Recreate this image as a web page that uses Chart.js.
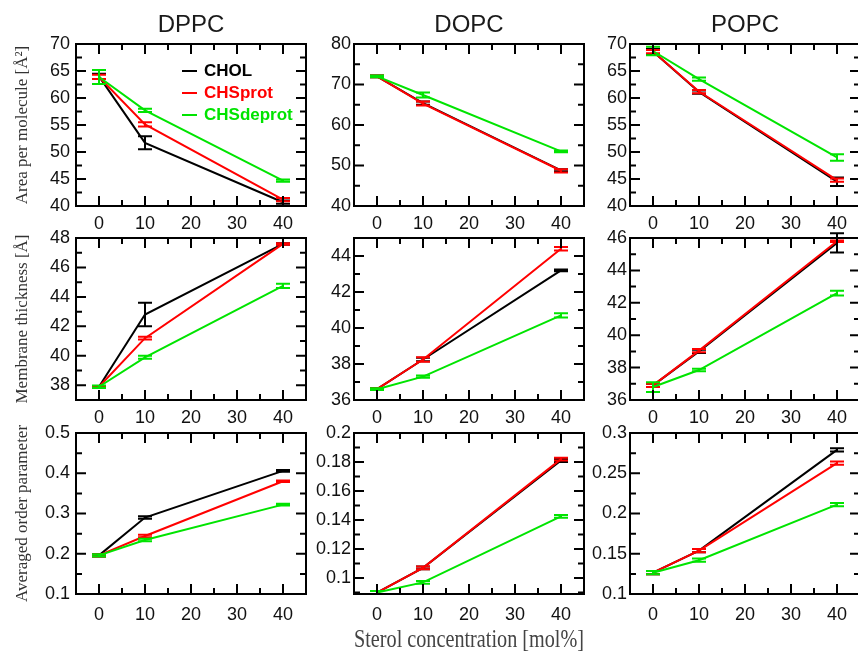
<!DOCTYPE html>
<html>
<head>
<meta charset="utf-8">
<title>Sterol concentration</title>
<script src="https://cdn.jsdelivr.net/npm/chart.js@4.4.1/dist/chart.umd.min.js"></script>
<style>
html, body { margin: 0; padding: 0; background: #fff; overflow: hidden; width: 858px; height: 654px; }
canvas { position: absolute; }
</style>
</head>
<body>
<script>
var konsentrasi = [0, 10, 40];
var xTicks = [0, 10, 20, 30, 40];
var xMinor = [5, 15, 25, 35];

var lipid = ['DPPC', 'DOPC', 'POPC'];
var sterol = ['CHOL', 'CHSprot', 'CHSdeprot'];
var judulY = ['Area per molecule [Å²]', 'Membrane thickness [Å]', 'Averaged order parameter'];

// area per molecule
var area_dppc_chol = [64.0, 51.7, 40.7];
var area_dppc_prot = [63.9, 55.1, 41.2];
var area_dppc_deprot = [63.9, 57.7, 44.7];
var area_dopc_chol = [72.0, 65.4, 48.8];
var area_dopc_prot = [72.0, 65.3, 48.7];
var area_dopc_deprot = [72.0, 67.4, 53.5];
var area_popc_chol = [68.6, 61.1, 44.5];
var area_popc_prot = [68.6, 61.2, 44.8];
var area_popc_deprot = [68.7, 63.5, 49.0];

var err_area_dppc_chol = [0.5, 1.2, 0.3];
var err_area_dppc_prot = [0.4, 0.4, 0.3];
var err_area_dppc_deprot = [1.3, 0.3, 0.2];
var err_area_dopc_chol = [0.2, 0.4, 0.3];
var err_area_dopc_prot = [0.2, 0.5, 0.4];
var err_area_dopc_deprot = [0.2, 0.6, 0.2];
var err_area_popc_chol = [0.5, 0.3, 0.8];
var err_area_popc_prot = [0.3, 0.3, 0.3];
var err_area_popc_deprot = [0.8, 0.3, 0.6];

// membrane thickness
var tebal_dppc_chol = [37.9, 42.8, 47.6];
var tebal_dppc_prot = [37.9, 41.2, 47.6];
var tebal_dppc_deprot = [37.9, 39.9, 44.75];
var tebal_dopc_chol = [36.6, 38.25, 43.2];
var tebal_dopc_prot = [36.6, 38.25, 44.4];
var tebal_dopc_deprot = [36.6, 37.3, 40.7];
var tebal_popc_chol = [36.9, 39.0, 45.7];
var tebal_popc_prot = [36.9, 39.05, 45.8];
var tebal_popc_deprot = [36.8, 37.85, 42.6];

var err_tebal_dppc_chol = [0.05, 0.8, 0.05];
var err_tebal_dppc_prot = [0.05, 0.1, 0.05];
var err_tebal_dppc_deprot = [0.08, 0.1, 0.15];
var err_tebal_dopc_chol = [0.05, 0.1, 0.05];
var err_tebal_dopc_prot = [0.05, 0.12, 0.1];
var err_tebal_dopc_deprot = [0.05, 0.06, 0.12];
var err_tebal_popc_chol = [0.1, 0.1, 0.6];
var err_tebal_popc_prot = [0.1, 0.1, 0.05];
var err_tebal_popc_deprot = [0.3, 0.08, 0.15];

// averaged order parameter
var order_dppc_chol = [0.196, 0.290, 0.406];
var order_dppc_prot = [0.196, 0.244, 0.380];
var order_dppc_deprot = [0.196, 0.234, 0.322];
var order_dopc_chol = [0.090, 0.107, 0.181];
var order_dopc_prot = [0.090, 0.107, 0.182];
var order_dopc_deprot = [0.090, 0.097, 0.1425];
var order_popc_chol = [0.1265, 0.154, 0.279];
var order_popc_prot = [0.1265, 0.154, 0.2625];
var order_popc_deprot = [0.1265, 0.142, 0.211];

var err_order_dppc = [0.003, 0.003, 0.002];
var err_order_dopc = [0.001, 0.001, 0.001];
var err_order_popc = [0.002, 0.002, 0.002];

// tick labels
var tick_area_dppc = [40, 45, 50, 55, 60, 65, 70];
var tick_area_dopc = [40, 50, 60, 70, 80];
var tick_area_popc = [40, 45, 50, 55, 60, 65, 70];
var tick_tebal_dppc = [38, 40, 42, 44, 46, 48];
var tick_tebal_dopc = [36, 38, 40, 42, 44];
var tick_tebal_popc = [36, 38, 40, 42, 44, 46];
var tick_order_dppc = [0.1, 0.2, 0.3, 0.4, 0.5];
var tick_order_dopc = [0.1, 0.12, 0.14, 0.16, 0.18, 0.2];
var tick_order_popc = [0.1, 0.15, 0.2, 0.25, 0.3];

var warna = ['#000000', '#ff0000', '#00e400'];
var kiri = [76, 354, 630];
var atas = [44, 238, 433];
var tinggi = [162, 162, 161];
var lebar = 230;

var panel = [
	{baris: 0, kolom: 0, min: 40, max: 70, ticks: tick_area_dppc, nilai: [area_dppc_chol, area_dppc_prot, area_dppc_deprot], galat: [err_area_dppc_chol, err_area_dppc_prot, err_area_dppc_deprot]},
	{baris: 0, kolom: 1, min: 40, max: 80, ticks: tick_area_dopc, nilai: [area_dopc_chol, area_dopc_prot, area_dopc_deprot], galat: [err_area_dopc_chol, err_area_dopc_prot, err_area_dopc_deprot]},
	{baris: 0, kolom: 2, min: 40, max: 70, ticks: tick_area_popc, nilai: [area_popc_chol, area_popc_prot, area_popc_deprot], galat: [err_area_popc_chol, err_area_popc_prot, err_area_popc_deprot]},
	{baris: 1, kolom: 0, min: 37, max: 48, ticks: tick_tebal_dppc, nilai: [tebal_dppc_chol, tebal_dppc_prot, tebal_dppc_deprot], galat: [err_tebal_dppc_chol, err_tebal_dppc_prot, err_tebal_dppc_deprot]},
	{baris: 1, kolom: 1, min: 36, max: 45, ticks: tick_tebal_dopc, nilai: [tebal_dopc_chol, tebal_dopc_prot, tebal_dopc_deprot], galat: [err_tebal_dopc_chol, err_tebal_dopc_prot, err_tebal_dopc_deprot]},
	{baris: 1, kolom: 2, min: 36, max: 46, ticks: tick_tebal_popc, nilai: [tebal_popc_chol, tebal_popc_prot, tebal_popc_deprot], galat: [err_tebal_popc_chol, err_tebal_popc_prot, err_tebal_popc_deprot]},
	{baris: 2, kolom: 0, min: 0.1, max: 0.5, ticks: tick_order_dppc, nilai: [order_dppc_chol, order_dppc_prot, order_dppc_deprot], galat: [err_order_dppc, err_order_dppc, err_order_dppc]},
	{baris: 2, kolom: 1, min: 0.089, max: 0.2, ticks: tick_order_dopc, nilai: [order_dopc_chol, order_dopc_prot, order_dopc_deprot], galat: [err_order_dopc, err_order_dopc, err_order_dopc]},
	{baris: 2, kolom: 2, min: 0.1, max: 0.3, ticks: tick_order_popc, nilai: [order_popc_chol, order_popc_prot, order_popc_deprot], galat: [err_order_popc, err_order_popc, err_order_popc]}
];

var sans = "'Liberation Sans', Arial, sans-serif";
var serif = "'Liberation Serif', 'Times New Roman', serif";

// error bar per dataset, drawn right after its line
var errorBar = {
	id: 'errorBar',
	afterDatasetDraw: function(chart, args) {
		var ds = chart.data.datasets[args.index];
		if (!ds.galat) return;
		var ctx = chart.ctx, sy = chart.scales.y;
		ctx.save();
		ctx.strokeStyle = ds.borderColor;
		ctx.lineWidth = 2;
		ctx.beginPath();
		args.meta.data.forEach(function(pt, i) {
			var v = ds.data[i].y, e = ds.galat[i];
			var y1 = sy.getPixelForValue(v + e), y2 = sy.getPixelForValue(v - e);
			ctx.moveTo(pt.x, y1); ctx.lineTo(pt.x, y2);
			ctx.moveTo(pt.x - 7, y1); ctx.lineTo(pt.x + 7, y1);
			ctx.moveTo(pt.x - 7, y2); ctx.lineTo(pt.x + 7, y2);
		});
		ctx.stroke();
		ctx.restore();
	}
};

// frame + inward ticks on all four sides
var bingkai = {
	id: 'bingkai',
	afterDraw: function(chart) {
		var ctx = chart.ctx, a = chart.chartArea, sx = chart.scales.x, sy = chart.scales.y;
		var mayor = sy.ticks.map(function(t) { return t.value; });
		var step = mayor[1] - mayor[0];
		var minor = mayor.map(function(v) { return v - step / 2; });
		minor.push(mayor[mayor.length - 1] + step / 2);
		minor = minor.filter(function(v) { return v > sy.min - 1e-9 && v < sy.max + 1e-9; });

		ctx.save();
		ctx.strokeStyle = '#000';
		ctx.lineWidth = 2;
		ctx.strokeRect(a.left, a.top, a.right - a.left, a.bottom - a.top);
		ctx.beginPath();
		function tx(v, len) {
			var px = sx.getPixelForValue(v);
			ctx.moveTo(px, a.bottom); ctx.lineTo(px, a.bottom - len);
			ctx.moveTo(px, a.top); ctx.lineTo(px, a.top + len);
		}
		function ty(v, len) {
			var py = sy.getPixelForValue(v);
			ctx.moveTo(a.left, py); ctx.lineTo(a.left + len, py);
			ctx.moveTo(a.right, py); ctx.lineTo(a.right - len, py);
		}
		xTicks.forEach(function(v) { tx(v, 10); });
		xMinor.forEach(function(v) { tx(v, 6); });
		mayor.forEach(function(v) { ty(v, 10); });
		minor.forEach(function(v) { ty(v, 6); });
		ctx.stroke();
		ctx.restore();
	}
};

var legendaDalam = {
	id: 'legendaDalam',
	afterDraw: function(chart) {
		var ctx = chart.ctx, a = chart.chartArea;
		ctx.save();
		ctx.font = "bold 17px " + sans;
		ctx.textBaseline = 'middle';
		ctx.lineWidth = 2;
		chart.data.datasets.forEach(function(ds, i) {
			var y = a.top + 27 + i * 22;
			ctx.strokeStyle = ds.borderColor;
			ctx.fillStyle = ds.borderColor;
			ctx.beginPath();
			ctx.moveTo(a.left + 106, y);
			ctx.lineTo(a.left + 121, y);
			ctx.stroke();
			ctx.fillText(ds.label, a.left + 128, y);
		});
		ctx.restore();
	}
};

function labelAngka(v) {
	return String(+Number(v).toFixed(3));
}

panel.forEach(function(p) {
	var xh = p.baris == 2 ? 62 : 30;
	var c = document.createElement('canvas');
	c.width = 70 + lebar + 10;
	c.height = 44 + tinggi[p.baris] + xh;
	c.style.left = (kiri[p.kolom] - 70) + 'px';
	c.style.top = (atas[p.baris] - 44) + 'px';
	document.body.appendChild(c);

	var datasets = sterol.map(function(nama, k) {
		return {
			label: nama,
			data: konsentrasi.map(function(x, i) { return {x: x, y: p.nilai[k][i]}; }),
			galat: p.galat[k],
			borderColor: warna[k],
			backgroundColor: warna[k],
			borderWidth: 2,
			pointRadius: 0,
			tension: 0,
			fill: false,
			order: 3 - k
		};
	});

	var plug = [errorBar, bingkai];
	if (p.baris == 0 && p.kolom == 0) plug.push(legendaDalam);

	new Chart(c.getContext('2d'), {
		type: 'line',
		data: {datasets: datasets},
		options: {
			responsive: false,
			animation: false,
			devicePixelRatio: 1,
			layout: {padding: {top: p.baris == 0 ? 0 : 44, right: 10, left: 0, bottom: 0}},
			plugins: {
				legend: {display: false},
				tooltip: {enabled: false},
				title: {
					display: p.baris == 0,
					text: lipid[p.kolom],
					fullSize: false,
					color: '#1a1a1a',
					font: {family: sans, size: 24, weight: 'normal'},
					padding: {top: 10.6, bottom: 4.6}
				}
			},
			scales: {
				x: {
					type: 'linear',
					min: -5,
					max: 45,
					grid: {display: false, drawTicks: false},
					border: {display: false},
					afterBuildTicks: function(axis) { axis.ticks = xTicks.map(function(v) { return {value: v}; }); },
					afterFit: function(axis) { axis.height = xh; },
					ticks: {
						color: '#111',
						font: {family: sans, size: 18},
						padding: p.baris == 2 ? 10 : 7,
						maxRotation: 0,
						autoSkip: false,
						callback: labelAngka
					},
					title: {
						display: p.baris == 2 && p.kolom == 1,
						text: 'Sterol concentration [mol%]',
						color: '#444',
						font: {family: serif, size: 26},
						padding: {top: 0, bottom: 0}
					}
				},
				y: {
					min: p.min,
					max: p.max,
					grid: {display: false, drawTicks: false},
					border: {display: false},
					afterBuildTicks: function(axis) { axis.ticks = p.ticks.map(function(v) { return {value: v}; }); },
					afterFit: function(axis) { axis.width = 70; },
					ticks: {
						color: '#111',
						font: {family: sans, size: 18},
						padding: p.kolom == 0 ? 6 : 3,
						autoSkip: false,
						callback: labelAngka
					},
					title: {
						display: p.kolom == 0,
						text: judulY[p.baris],
						color: '#333',
						font: {family: serif, size: 17},
						padding: {top: 6, bottom: 0}
					}
				}
			}
		},
		plugins: plug
	});
});
</script>
</body>
</html>
